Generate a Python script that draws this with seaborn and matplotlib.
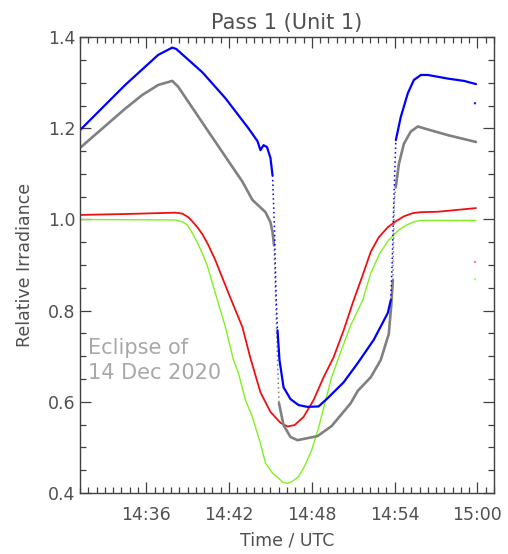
import matplotlib
matplotlib.use("Agg")
import numpy as np
import pandas as pd
import matplotlib.pyplot as plt
from matplotlib.ticker import MultipleLocator, FuncFormatter
import seaborn as sns

# time in decimal hours (UTC)
blue_t = [14.520, 14.5745, 14.6144, 14.6314, 14.6362, 14.6677, 14.6956, 14.7234,
          14.7343, 14.7379, 14.7416, 14.7458, 14.7500, 14.7525, 14.7549, 14.7567,
          14.7585, 14.7609, 14.7658, 14.7742, 14.7839, 14.7948, 14.8081, 14.8190,
          14.8384, 14.8554, 14.8747, 14.8917, 14.8953, 14.8971, 14.8990, 14.9014,
          14.9074, 14.9159, 14.9232, 14.9316, 14.9401, 14.9643, 14.9837, 14.9982]
blue_v = [1.196, 1.295, 1.361, 1.377, 1.374, 1.323, 1.266, 1.200,
          1.172, 1.152, 1.163, 1.159, 1.135, 1.097, 0.977, 0.839,
          0.757, 0.692, 0.632, 0.606, 0.593, 0.589, 0.590, 0.608,
          0.643, 0.685, 0.736, 0.795, 0.823, 0.911, 1.043, 1.174,
          1.225, 1.277, 1.306, 1.317, 1.317, 1.309, 1.304, 1.297]
# index ranges where the samples are sparse (fast change) -> drawn dotted
blue_fast = [(13, 16), (28, 31)]

gray_t = [14.520, 14.5745, 14.5951, 14.6144, 14.6314, 14.6386, 14.6750, 14.7161,
          14.7282, 14.7440, 14.7500, 14.7525, 14.7543, 14.7561, 14.7585, 14.7603,
          14.7658, 14.7742, 14.7827, 14.8069, 14.8239, 14.8469, 14.8554, 14.8711,
          14.8832, 14.8929, 14.8959, 14.8978, 14.8996, 14.9014, 14.9050, 14.9111,
          14.9195, 14.9280, 14.9353, 14.9643, 14.9982]
gray_v = [1.157, 1.243, 1.273, 1.295, 1.304, 1.291, 1.193, 1.083,
          1.043, 1.016, 0.994, 0.972, 0.944, 0.839, 0.692, 0.597,
          0.549, 0.523, 0.516, 0.525, 0.547, 0.597, 0.624, 0.654,
          0.692, 0.749, 0.812, 0.867, 1.043, 1.071, 1.121, 1.166,
          1.193, 1.204, 1.200, 1.185, 1.170]
gray_fast = [(12, 15), (27, 29)]

red_t = [14.520, 14.5745, 14.6350, 14.6435, 14.6508, 14.6556, 14.6617, 14.6677,
         14.6750, 14.6834, 14.6992, 14.7161, 14.7258, 14.7379, 14.7500, 14.7621,
         14.7706, 14.7791, 14.7900, 14.8021, 14.8142, 14.8263, 14.8384, 14.8505,
         14.8614, 14.8711, 14.8808, 14.8917, 14.9014, 14.9111, 14.9220, 14.9316,
         14.9522, 14.9982]
red_v = [1.010, 1.012, 1.015, 1.013, 1.005, 0.996, 0.983, 0.968,
         0.944, 0.911, 0.839, 0.764, 0.696, 0.621, 0.578, 0.554,
         0.546, 0.549, 0.567, 0.604, 0.654, 0.698, 0.757, 0.823,
         0.878, 0.929, 0.961, 0.983, 0.996, 1.007, 1.014, 1.016,
         1.017, 1.025]

green_t = [14.520, 14.6350, 14.6435, 14.6496, 14.6556, 14.6617, 14.6677, 14.6738,
           14.6798, 14.6956, 14.7053, 14.7113, 14.7198, 14.7282, 14.7367, 14.7440,
           14.7524, 14.7597, 14.7646, 14.7706, 14.7767, 14.7839, 14.7912, 14.7997,
           14.8081, 14.8166, 14.8239, 14.8335, 14.8469, 14.8614, 14.8711, 14.8820,
           14.8929, 14.9050, 14.9147, 14.9232, 14.9316, 14.9982]
green_v = [1.000, 0.999, 0.995, 0.988, 0.970, 0.950, 0.926, 0.898,
           0.861, 0.764, 0.692, 0.663, 0.604, 0.567, 0.516, 0.466,
           0.444, 0.433, 0.424, 0.421, 0.426, 0.436, 0.459, 0.494,
           0.543, 0.604, 0.654, 0.703, 0.768, 0.823, 0.882, 0.926,
           0.955, 0.977, 0.988, 0.995, 0.998, 0.998]

# stray samples at the end of the pass
stray_t = [14.9970, 14.9970, 14.9970]
stray_v = [1.255, 0.907, 0.869]
stray_c = ["#2020ff", "#ff8080", "#a0ff60"]

sns.set_style("white")
plt.rcParams["font.family"] = ["DejaVu Sans"]
txt = "#505050"

fig = plt.figure(figsize=(5.08, 5.54), dpi=100)
ax = fig.add_axes([0.1575, 0.110, 0.815, 0.823])


def draw(t, v, col, lw, fast=()):
    df = pd.DataFrame({"time": t, "irr": v})
    # split into solid runs and sparse (dotted) runs
    cuts = [0]
    for a, b in fast:
        cuts += [a, b]
    cuts.append(len(t) - 1)
    for k in range(len(cuts) - 1):
        seg = df.iloc[cuts[k]:cuts[k + 1] + 1]
        dotted = k % 2 == 1
        sns.lineplot(data=seg, x="time", y="irr", color=col,
                     linewidth=1.1 if dotted else lw,
                     linestyle=(0, (1, 2)) if dotted else "-",
                     sort=False, estimator=None, ax=ax)


draw(red_t, red_v, "#ee1111", 1.3)
draw(green_t, green_v, "#80f020", 1.0)
draw(gray_t, gray_v, "#808080", 1.9, gray_fast)
draw(blue_t, blue_v, "#0000ff", 1.6, blue_fast)

sns.scatterplot(x=stray_t, y=stray_v, color=stray_c, s=3, linewidth=0, ax=ax)

ax.set_xlim(14.52, 15.02)
ax.set_ylim(0.4, 1.4)

ax.xaxis.set_major_locator(MultipleLocator(0.1))
ax.xaxis.set_minor_locator(MultipleLocator(0.01))
ax.yaxis.set_major_locator(MultipleLocator(0.2))
ax.yaxis.set_minor_locator(MultipleLocator(0.05))


def hhmm(x, pos):
    m = int(round(x * 60))
    return "%02d:%02d" % (m // 60, m % 60)


ax.xaxis.set_major_formatter(FuncFormatter(hhmm))
ax.yaxis.set_major_formatter(FuncFormatter(lambda y, p: "%.1f" % y))

ax.tick_params(which="both", direction="in", bottom=True, left=True,
               top=True, right=True, colors="#404040", labelcolor=txt,
               labelsize=12.5, width=0.9)
ax.tick_params(which="major", length=8)
ax.tick_params(which="minor", length=4)
ax.tick_params(axis="x", pad=9)
for s in ax.spines.values():
    s.set_color("#404040")
    s.set_linewidth(1.0)

ax.set_xlabel("Time / UTC", fontsize=12.5, color=txt, labelpad=6)
ax.set_ylabel("Relative Irradiance", fontsize=12.5, color=txt, labelpad=10)
ax.set_title("Pass 1 (Unit 1)", fontsize=15, color=txt, pad=6)

ax.text(14.530, 0.69, "Eclipse of\n14 Dec 2020", fontsize=15, color="#a8a8a8",
        ha="left", va="center", linespacing=1.3)

plt.savefig("out.png", dpi=100)
